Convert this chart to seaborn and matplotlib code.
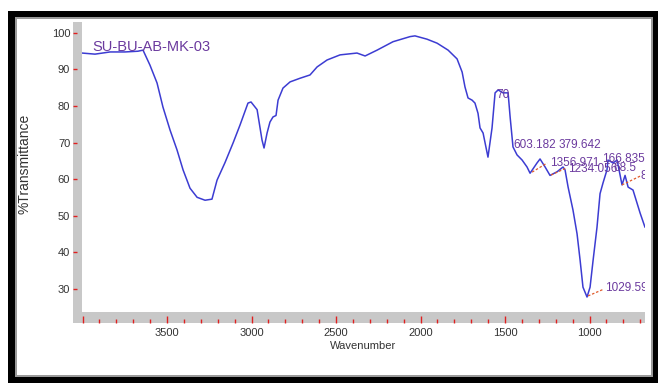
import matplotlib
matplotlib.use("Agg")
import matplotlib.pyplot as plt
import seaborn as sns
from matplotlib.patches import Rectangle
from matplotlib.ticker import FixedLocator, MultipleLocator

# spectrum
wavenumber = [4003, 3926, 3837, 3749, 3672, 3642, 3601, 3559, 3524, 3482,
              3441, 3405, 3364, 3322, 3275, 3234, 3204, 3157, 3109, 3068,
              3021, 3003, 2967, 2938, 2926, 2908, 2891, 2873, 2855, 2843,
              2814, 2772, 2713, 2654, 2612, 2553, 2476, 2376, 2328, 2257,
              2163, 2062, 2033, 1962, 1902, 1837, 1784, 1754, 1737, 1719,
              1695, 1678, 1660, 1648, 1630, 1601, 1577, 1559, 1541, 1512,
              1482, 1470, 1453, 1429, 1399, 1370, 1352, 1311, 1293, 1263,
              1234, 1192, 1157, 1145, 1127, 1098, 1074, 1056, 1039, 1015,
              997, 979, 956, 938, 920, 897, 891, 861, 837, 808,
              790, 772, 743, 701, 672]
transmittance = [94.5, 94.2, 94.8, 94.8, 95.0, 95.3, 91.2, 86.3, 79.7, 73.4,
                 68.0, 62.5, 57.5, 55.0, 54.2, 54.5, 59.7, 64.5, 69.9, 74.8,
                 80.8, 81.1, 79.0, 70.7, 68.5, 72.6, 75.6, 77.0, 77.4, 81.6,
                 84.9, 86.6, 87.6, 88.5, 90.7, 92.6, 94.0, 94.5, 93.7, 95.3,
                 97.6, 99.0, 99.2, 98.3, 97.2, 95.3, 92.9, 89.3, 85.2, 82.2,
                 81.6, 80.8, 78.0, 74.0, 72.6, 66.0, 74.0, 83.6, 84.4, 83.6,
                 83.6, 77.0, 68.8, 66.6, 65.2, 63.3, 61.6, 64.4, 65.5, 63.3,
                 61.0, 62.0, 63.3, 62.5, 57.8, 51.5, 45.0, 37.8, 30.4, 27.7,
                 30.4, 37.8, 46.8, 56.0, 59.0, 62.5, 65.2, 64.4, 65.2, 58.4,
                 61.0, 57.8, 57.0, 50.7, 46.8]

x_ticks = [4000, 3500, 3000, 2500, 2000, 1500, 1000]
x_tick_labels = ["", "3500", "3000", "2500", "2000", "1500", "1000"]
y_ticks = [30, 40, 50, 60, 70, 80, 90, 100]

# peak labels (text, wavenumber, %T) as they show in the picture
peak_texts = ["70", "603.182", "379.642", "1356.971", "1234.056",
              "166.835", "68.5", "8", "1029.590"]
peak_wn = [1553, 1453, 1186, 1234, 1127, 926, 861, 701, 908]
peak_t = [83.0, 69.3, 69.3, 64.4, 62.7, 65.5, 63.0, 60.8, 30.1]
# dashed leader lines: curve point -> label
lead_wn = [(1340, 1251), (1228, 1139), (808, 701), (1009, 914)]
lead_t = [(61.9, 64.4), (61.1, 63.0), (58.4, 60.8), (28.0, 29.9)]

W, H = 658, 383
sns.set_style("white")
plt.rcParams["font.family"] = ["Liberation Sans", "DejaVu Sans"]

fig = plt.figure(figsize=(W / 100, H / 100), dpi=100)


def box(x0, y0, x1, y1, color):
    # pixel box (top-left origin) -> figure fraction
    fig.add_artist(Rectangle((x0 / W, 1 - y1 / H), (x1 - x0) / W, (y1 - y0) / H,
                             transform=fig.transFigure, facecolor=color,
                             edgecolor="none", zorder=0))


# outer frame
box(8, 11, 658, 17, "black")
box(8, 11, 15, 383, "black")
box(8, 377, 658, 383, "black")
box(653, 11, 658, 383, "black")
box(15, 17, 653, 19, "#9a9a9a")
box(15, 17, 17, 377, "#9a9a9a")
box(15, 375, 653, 377, "#9a9a9a")
box(651, 17, 653, 377, "#9a9a9a")

# grey axis strips
box(73, 22, 82, 323, "#c8c8c8")
box(73, 312, 645, 323, "#c8c8c8")

ax = fig.add_axes([82 / W, 1 - 312 / H, (645 - 82) / W, (312 - 22) / H])
ax.set_facecolor("none")
sns.lineplot(x=wavenumber, y=transmittance, sort=False, ax=ax,
             color="#3c3cd2", linewidth=1.1)
ax.set_xlim(4003, 672)
ax.set_ylim(23.6, 103)

for s in ax.spines.values():
    s.set_visible(False)
ax.spines["bottom"].set_position(("outward", 7.9))
ax.spines["left"].set_position(("outward", 6.5))

ax.xaxis.set_major_locator(FixedLocator(x_ticks))
ax.set_xticklabels(x_tick_labels)
ax.xaxis.set_minor_locator(MultipleLocator(100))
ax.set_yticks(y_ticks)
ax.tick_params(axis="x", which="major", direction="in", length=5, width=1,
               color="#e02020", pad=3.5, labelsize=8, labelcolor="#333333",
               bottom=True)
ax.tick_params(axis="x", which="minor", direction="in", length=2.6, width=1,
               color="#e02020", bottom=True)
ax.tick_params(axis="y", which="major", direction="in", length=3, width=1,
               color="#e02020", pad=2, labelsize=8, labelcolor="#333333",
               left=True)

ax.set_xlabel("Wavenumber", fontsize=8, color="#333333", labelpad=2)
fig.text(25 / W, 1 - 164 / H, "%Transmittance", rotation=90, fontsize=10,
         color="#333333", ha="center", va="center")

purple = "#6b3a9e"
ax.text(3944, 96.2, "SU-BU-AB-MK-03", fontsize=10.5, color=purple,
        ha="left", va="center")

for (w0, w1), (t0, t1) in zip(lead_wn, lead_t):
    ax.plot([w0, w1], [t0, t1], color="#e05a2a", linewidth=0.9,
            linestyle=(0, (2, 1.5)))
for txt, w, t in zip(peak_texts, peak_wn, peak_t):
    ax.text(w, t, txt, fontsize=8.5, color=purple, ha="left", va="center",
            clip_on=True)

fig.savefig("out.png", dpi=100, facecolor="white")
